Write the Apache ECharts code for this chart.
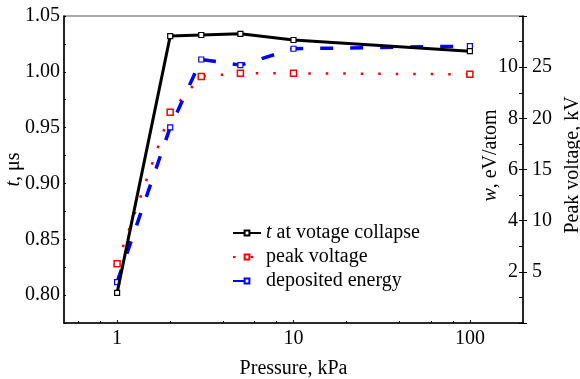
<!DOCTYPE html>
<html>
<head>
<meta charset="utf-8">
<script src="https://cdn.jsdelivr.net/npm/echarts@6/dist/echarts.min.js"></script>
<style>html,body{margin:0;padding:0;background:#fff;}#c{width:580px;height:379px;}</style>
</head>
<body>
<div id="c"></div>
<script>
const pressure = [1, 2, 3, 5, 10, 100];
const tCollapse = [0.802, 1.032, 1.033, 1.034, 1.0285, 1.0185];
const peakVoltage = [5.8, 20.6, 24.1, 24.4, 24.4, 24.3];
const depositedEnergy = [1.6, 7.65, 10.3, 10.08, 10.72, 10.82];
const xTickLabels = [1, 10, 100];
const xMinorTicks = [0.6, 0.8, 2, 4, 6, 8, 20, 40, 60, 80];
const seriesNames = ['t at votage collapse', 'peak voltage', 'deposited energy'];

const FONT = 'Liberation Serif';
const pairs = a => pressure.map((p, i) => [p, a[i]]);

const chart = echarts.init(document.getElementById('c'));
chart.setOption({
  animation: false,
  backgroundColor: '#fff',
  textStyle: { fontFamily: FONT, color: '#000' },
  grid: { left: 64, top: 16, right: 57, bottom: 56, containLabel: false, outerBoundsMode: 'none', show: true, borderColor: '#555', borderWidth: 1.2, backgroundColor: 'transparent' },
  xAxis: [{
    type: 'log', logBase: 10, min: 0.5, max: 200,
    name: 'Pressure, kPa', nameLocation: 'middle', nameGap: 36, nameMoveOverlap: false,
    nameTextStyle: { fontFamily: FONT, fontSize: 20, color: '#000' },
    axisLine: { lineStyle: { color: '#000', width: 1.5 } },
    axisTick: { inside: true, length: 3, lineStyle: { color: '#000' }, customValues: xTickLabels },
    axisLabel: { fontFamily: FONT, fontSize: 20, color: '#000', margin: 6, customValues: xTickLabels },
    splitLine: { show: false }
  }, {
    type: 'log', logBase: 10, min: 0.5, max: 200, position: 'bottom',
    axisLine: { show: false },
    axisTick: { inside: true, length: 2, lineStyle: { color: '#000' }, customValues: xMinorTicks },
    axisLabel: { show: false },
    splitLine: { show: false }
  }],
  yAxis: [{
    type: 'value', min: 0.775, max: 1.05, interval: 0.025,
    name: '{i|t}, μs', nameLocation: 'middle', nameGap: 40, nameRotate: 90, nameMoveOverlap: false,
    nameTextStyle: { fontFamily: FONT, fontSize: 20, color: '#000', rich: { i: { fontFamily: FONT, fontSize: 20, fontStyle: 'italic', color: '#000' } } },
    axisLine: { show: true, lineStyle: { color: '#000', width: 1.5 } },
    axisTick: { inside: true, length: 2, lineStyle: { color: '#000' } },
    axisLabel: {
      fontFamily: FONT, fontSize: 20, color: '#000', margin: 4,
      formatter: v => (Math.round(v * 1000) % 50 === 0) ? v.toFixed(2) : ''
    },
    splitLine: { show: false }
  }, {
    type: 'value', min: 0, max: 12, interval: 1, position: 'right',
    name: '{i|w}, eV/atom', nameLocation: 'middle', nameGap: -42, nameRotate: 90, nameMoveOverlap: false,
    nameTextStyle: { fontFamily: FONT, fontSize: 20, color: '#000', padding: [0, 0, 0, 28], rich: { i: { fontFamily: FONT, fontSize: 20, fontStyle: 'italic', color: '#000' } } },
    axisLine: { show: true, lineStyle: { color: '#000', width: 1.5 } },
    axisTick: { inside: true, length: 4, lineStyle: { color: '#000' } },
    axisLabel: {
      inside: true, fontFamily: FONT, fontSize: 20, color: '#000', margin: 5,
      formatter: v => (v % 2 === 0 && v > 0 && v < 12) ? String(v) : ''
    },
    splitLine: { show: false }
  }, {
    type: 'value', min: 0, max: 30, interval: 5, position: 'right',
    name: 'Peak voltage, kV', nameLocation: 'middle', nameGap: 40, nameRotate: 90, nameMoveOverlap: false,
    nameTextStyle: { fontFamily: FONT, fontSize: 20, color: '#000', padding: [0, 0, 0, 9] },
    axisLine: { show: false },
    axisTick: { inside: false, length: 4, lineStyle: { color: '#000' } },
    axisLabel: {
      fontFamily: FONT, fontSize: 20, color: '#000', margin: 9,
      formatter: v => (v > 0 && v < 30) ? String(v) : ''
    },
    splitLine: { show: false }
  }],
  legend: {
    orient: 'vertical', left: 227, top: 218,
    itemWidth: 28, itemHeight: 6, itemGap: 4,
    data: seriesNames,
    formatter: n => n.indexOf('t at') === 0 ? '{i|t}' + n.slice(1) : n,
    textStyle: { fontFamily: FONT, fontSize: 20, color: '#000', rich: { i: { fontFamily: FONT, fontSize: 20, fontStyle: 'italic', color: '#000' } } }
  },
  series: [{
    name: seriesNames[0], type: 'line', xAxisIndex: 0, yAxisIndex: 0,
    data: pairs(tCollapse),
    symbol: 'rect', symbolSize: 5,
    lineStyle: { color: '#000', width: 3 },
    itemStyle: { color: '#fff', borderColor: '#000', borderWidth: 1.2 },
    z: 3
  }, {
    name: seriesNames[1], type: 'line', xAxisIndex: 0, yAxisIndex: 2,
    data: pairs(peakVoltage),
    symbol: 'rect', symbolSize: 6,
    lineStyle: { color: '#ff0000', width: 2.5, type: [2.5, 15] },
    itemStyle: { color: '#fff', borderColor: '#ff0000', borderWidth: 1.5 },
    z: 2
  }, {
    name: seriesNames[2], type: 'line', xAxisIndex: 0, yAxisIndex: 1,
    data: pairs(depositedEnergy),
    symbol: 'rect', symbolSize: 5,
    lineStyle: { color: '#0000ff', width: 3.5, type: [13, 17] },
    itemStyle: { color: '#fff', borderColor: '#0000ff', borderWidth: 1.2 },
    z: 2
  }]
});
</script>
</body>
</html>
